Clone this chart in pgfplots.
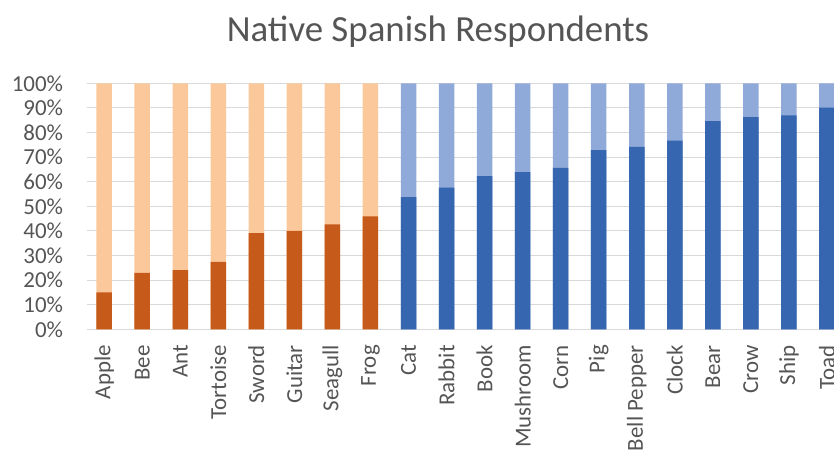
\documentclass[border=0pt]{standalone}
\usepackage{fontspec}
\setmainfont{Carlito}
\usepackage{pgfplots}
\pgfplotsset{compat=1.18}
\definecolor{darkor}{HTML}{C55A1A}
\definecolor{lightor}{HTML}{FBC89C}
\definecolor{darkbl}{HTML}{3566AF}
\definecolor{lightbl}{HTML}{8FA9D9}
\definecolor{txt}{HTML}{555555}
\definecolor{gridc}{HTML}{D9D9D9}
\begin{document}
\begin{tikzpicture}
\clip (0,0) rectangle (834bp,450bp);
\path[use as bounding box] (0,0) rectangle (834bp,450bp);
\node[anchor=base, text=txt, font=\fontsize{37}{42}\selectfont] at (438bp,408bp) {Native Spanish Respondents};
\begin{axis}[
  at={(87.3bp,120.7bp)}, anchor=south west,
  scale only axis, width=746.7bp, height=246bp,
  xmin=-0.444, xmax=19.185, ymin=0, ymax=100,
  ybar, bar width=15.5bp, bar shift=0pt,
  axis line style={draw=none},
  major tick length=0pt,
  ytick={0,10,...,100},
  ymajorgrids, grid style={gridc, line width=1bp},
  yticklabel={\pgfmathprintnumber{\tick}\%},
  /pgf/number format/assume math mode=true,
  yticklabel style={font=\fontsize{23}{27}\selectfont, text=txt, inner sep=0pt, xshift=-24bp},
  xtick={0,...,19},
  xticklabels={Apple,Bee,Ant,Tortoise,Sword,Guitar,Seagull,Frog,Cat,Rabbit,Book,Mushroom,Corn,Pig,Bell Pepper,Clock,Bear,Crow,Ship,Toad},
  xticklabel style={font=\fontsize{23}{27}\selectfont, text=txt, rotate=90, anchor=east, inner sep=0pt, xshift=-15.7bp},
]
% light (remaining share) bars drawn to 100%
\addplot[fill=lightor, draw=none] coordinates {(0,100) (1,100) (2,100) (3,100) (4,100) (5,100) (6,100) (7,100)};
\addplot[fill=lightbl, draw=none] coordinates {(8,100) (9,100) (10,100) (11,100) (12,100) (13,100) (14,100) (15,100) (16,100) (17,100) (18,100) (19,100)};
% dark share
\addplot[fill=darkor, draw=none] coordinates {(0,15.0) (1,22.9) (2,24.1) (3,27.4) (4,39.1) (5,40.0) (6,42.7) (7,45.9)};
\addplot[fill=darkbl, draw=none] coordinates {(8,53.7) (9,57.6) (10,62.3) (11,63.9) (12,65.6) (13,72.8) (14,74.2) (15,76.7) (16,84.6) (17,86.2) (18,87.0) (19,90.1)};
\end{axis}
\end{tikzpicture}
\end{document}
